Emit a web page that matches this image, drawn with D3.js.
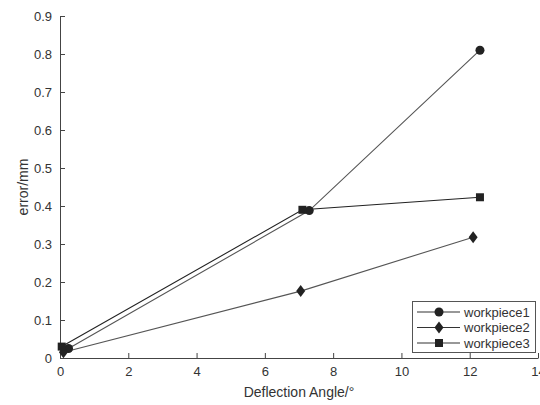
<!DOCTYPE html>
<html>
<head>
<meta charset="utf-8">
<script src="https://cdn.jsdelivr.net/npm/d3@7"></script>
<style>
  body { margin: 0; background: #fff; }
  svg { display: block; font-family: "Liberation Sans", Arial, sans-serif; }
</style>
</head>
<body>
<svg id="chart" width="540" height="405"></svg>
<script>
// data
const seriesNames = ["workpiece1", "workpiece2", "workpiece3"];
const workpiece1 = [[0.25, 0.025], [7.3, 0.388], [12.3, 0.81]];
const workpiece2 = [[0.1, 0.015], [7.05, 0.176], [12.1, 0.318]];
const workpiece3 = [[0.05, 0.03], [7.1, 0.39], [12.3, 0.423]];
const xTicks = [0, 2, 4, 6, 8, 10, 12, 14];
const yTicks = [0, 0.1, 0.2, 0.3, 0.4, 0.5, 0.6, 0.7, 0.8, 0.9];

const width = 540, height = 405;
const margin = { left: 60, right: 2, top: 16, bottom: 47 };

const svg = d3.select("#chart");

const x = d3.scaleLinear().domain([0, 14]).range([margin.left, width - margin.right]);
const y = d3.scaleLinear().domain([0, 0.9]).range([height - margin.bottom, margin.top]);

const textColor = "#333";
const axisColor = "#444";

// axes, ticks pointing inward like matlab
const xAxis = svg.append("g")
    .attr("transform", `translate(0,${y(0)})`)
    .call(d3.axisBottom(x).tickValues(xTicks).tickFormat(d3.format("d"))
        .tickSizeInner(-5).tickSizeOuter(0).tickPadding(9));

const yAxis = svg.append("g")
    .attr("transform", `translate(${x(0)},0)`)
    .call(d3.axisLeft(y).tickValues(yTicks).tickFormat(d => d === 0 ? "0" : d3.format(".1f")(d))
        .tickSizeInner(-5).tickSizeOuter(0).tickPadding(8));

[xAxis, yAxis].forEach(g => {
    g.select(".domain").attr("stroke", axisColor).attr("stroke-width", 1);
    g.selectAll(".tick line").attr("stroke", axisColor);
    g.selectAll(".tick text").attr("fill", textColor).style("font-size", "13px");
});

// axis titles
svg.append("text")
    .attr("x", (x(0) + x(14)) / 2)
    .attr("y", 397)
    .attr("text-anchor", "middle")
    .attr("fill", textColor)
    .style("font-size", "14px")
    .text("Deflection Angle/°");

svg.append("text")
    .attr("transform", `translate(28,${(y(0) + y(0.9)) / 2}) rotate(-90)`)
    .attr("text-anchor", "middle")
    .attr("fill", textColor)
    .style("font-size", "14px")
    .text("error/mm");

const allSeries = [workpiece1, workpiece2, workpiece3];
const markerColor = "#222";

function drawMarker(g, kind, cx, cy) {
    if (kind === 0) {
        g.append("circle").attr("cx", cx).attr("cy", cy).attr("r", 4.5).attr("fill", markerColor);
    } else if (kind === 1) {
        g.append("path")
            .attr("d", `M${cx},${cy - 6}L${cx + 4.5},${cy}L${cx},${cy + 6}L${cx - 4.5},${cy}Z`)
            .attr("fill", markerColor);
    } else {
        g.append("rect").attr("x", cx - 4).attr("y", cy - 4).attr("width", 8).attr("height", 8)
            .attr("fill", markerColor);
    }
}

const line = d3.line().x(d => x(d[0])).y(d => y(d[1]));

allSeries.forEach((s, i) => {
    svg.append("path")
        .attr("d", line(s))
        .attr("fill", "none")
        .attr("stroke", i === 2 ? "#222" : "#555")
        .attr("stroke-width", 1.1);
});

allSeries.forEach((s, i) => {
    const g = svg.append("g");
    s.forEach(d => drawMarker(g, i, x(d[0]), y(d[1])));
});

// legend
const legend = svg.append("g");
legend.append("rect")
    .attr("x", 412.5).attr("y", 301.5).attr("width", 123).attr("height", 51)
    .attr("fill", "#fff").attr("stroke", "#555").attr("stroke-width", 1);

seriesNames.forEach((name, i) => {
    const ly = 312 + i * 15.5;
    legend.append("line")
        .attr("x1", 417).attr("x2", 460).attr("y1", ly).attr("y2", ly)
        .attr("stroke", "#333").attr("stroke-width", 1.1);
    drawMarker(legend, i, 439, ly);
    legend.append("text")
        .attr("x", 464).attr("y", ly + 4.5)
        .attr("fill", textColor)
        .style("font-size", "13px")
        .text(name);
});
</script>
</body>
</html>
